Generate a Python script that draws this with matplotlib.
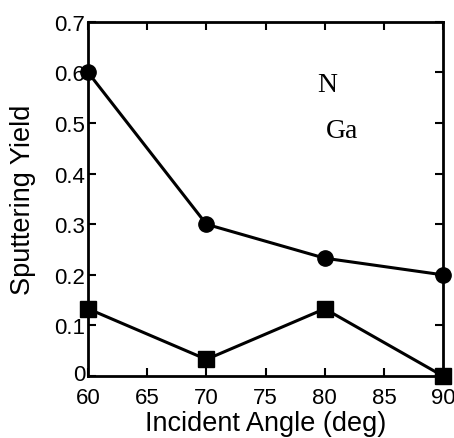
import matplotlib
matplotlib.use("Agg")
import matplotlib.pyplot as plt
import matplotlib.transforms as mtransforms

angle = [60, 70, 80, 90]
yield_n = [0.6, 0.3, 0.233, 0.2]
yield_ga = [0.133, 0.033, 0.133, 0.0]

plt.rcParams['font.family'] = ['Liberation Sans', 'DejaVu Sans']

fig = plt.figure(figsize=(4.54, 4.39), dpi=100)
ax = fig.add_axes([0.194, 0.141, 0.782, 0.807])

ax.plot(angle, yield_n, color='black', lw=2.2, marker='o', markersize=11, clip_on=False, zorder=3)
ax.plot(angle, yield_ga, color='black', lw=2.2, marker='s', markersize=12, clip_on=False, zorder=3)

ax.set_xlim(60, 90)
ax.set_ylim(0, 0.7)
ax.set_xticks([60, 65, 70, 75, 80, 85, 90])
ax.set_yticks([0, 0.1, 0.2, 0.3, 0.4, 0.5, 0.6, 0.7])
ax.set_yticklabels(['0', '0.1', '0.2', '0.3', '0.4', '0.5', '0.6', '0.7'])
ax.tick_params(direction='in', top=True, right=True, length=6, width=1.5, labelsize=16)
ax.tick_params(axis='x', pad=8)
ax.tick_params(axis='y', pad=2)
for s in ax.spines.values():
    s.set_linewidth(2)

# nudge the "0" label up a little so it clears the "60"
zero_lbl = ax.get_yticklabels()[0]
zero_lbl.set_transform(zero_lbl.get_transform() + mtransforms.ScaledTranslation(0, 3 / 72, fig.dpi_scale_trans))

ax.set_xlabel('Incident Angle (deg)', fontsize=19.5, labelpad=1)
ax.set_ylabel('Sputtering Yield', fontsize=19.5, labelpad=13)

ax.text(79.4, 0.564, 'N', fontsize=20, family='Liberation Serif', ha='left', va='baseline')
ax.text(80.1, 0.473, 'Ga', fontsize=20, family='Liberation Serif', ha='left', va='baseline')

fig.savefig('out.png', dpi=100)
